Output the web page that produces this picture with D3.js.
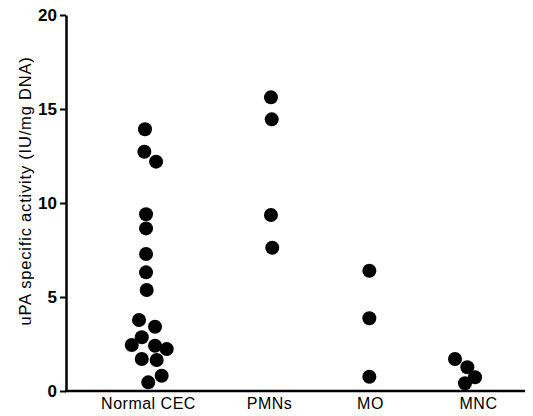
<!DOCTYPE html>
<html><head><meta charset="utf-8">
<script src="https://cdn.jsdelivr.net/npm/d3@7"></script>
<style>body{margin:0;background:#fff}</style>
</head><body>
<script>
// ---- data ----
const categories = ["Normal CEC", "PMNs", "MO", "MNC"];
const normalCEC = [13.92, 12.73, 12.20, 9.40, 8.65, 7.29, 6.31, 5.37, 3.78, 3.42, 2.86, 2.45, 2.41, 2.23, 1.70, 1.65, 0.81, 0.46];
const normalCECJitter = [-0.23, -0.28, 0.62, -0.15, -0.15, -0.15, -0.15, -0.10, -0.69, 0.54, -0.48, -1.25, 0.54, 1.44, -0.48, 0.67, 1.05, 0.02];
const pmns = [15.62, 14.45, 9.36, 7.62];
const pmnsJitter = [0.15, 0.21, 0.15, 0.25];
const mo = [6.40, 3.87, 0.76];
const moJitter = [-0.05, -0.05, -0.05];
const mnc = [1.70, 1.26, 0.73, 0.41];
const mncJitter = [-1.77, -0.82, -0.23, -1.00];
const yTicks = [0, 5, 10, 15, 20];
const yTitle = "uPA specific activity (IU/mg DNA)";

const groups = [
  {cat: categories[0], values: normalCEC, jitter: normalCECJitter},
  {cat: categories[1], values: pmns, jitter: pmnsJitter},
  {cat: categories[2], values: mo, jitter: moJitter},
  {cat: categories[3], values: mnc, jitter: mncJitter}
];
const points = groups.flatMap(g => g.values.map((v, i) => ({cat: g.cat, v, j: g.jitter[i]})));

// ---- layout ----
const W = 533, H = 416;
const x0 = 66, x1 = 525, yTop = 15, yBot = 391;
const FONT = "Liberation Sans, Arial, sans-serif";
const svg = d3.select("body").append("svg").attr("width", W).attr("height", H);

const y = d3.scaleLinear().domain([0, 20]).range([yBot, yTop]);
const x = d3.scaleOrdinal(categories, [148, 269, 370, 478]);
const jx = d3.scaleLinear().domain([-1, 1]).range([-13, 13]);

// y axis
const yAxis = svg.append("g").attr("transform", `translate(${x0},0)`)
  .call(d3.axisLeft(y).tickValues(yTicks).tickSize(6).tickSizeOuter(0).tickPadding(3));
yAxis.select(".domain").attr("stroke", "#000").attr("stroke-width", 2.5);
yAxis.selectAll(".tick line").attr("stroke", "#000").attr("stroke-width", 2);
yAxis.selectAll(".tick text")
  .style("font-family", FONT).style("font-weight", "700").style("font-size", "17px")
  .attr("fill", "#000");

// x axis
const xAxis = svg.append("g").attr("transform", `translate(0,${yBot})`)
  .call(d3.axisBottom(x).tickSize(0).tickPadding(7));
xAxis.select(".domain").remove();
xAxis.append("line").attr("x1", x0 - 1).attr("x2", x1).attr("y1", 0).attr("y2", 0)
  .attr("stroke", "#000").attr("stroke-width", 2.5);
xAxis.selectAll(".tick text")
  .style("font-family", FONT).style("font-size", "16px").style("letter-spacing", "0.5px")
  .attr("fill", "#000");

// y title
svg.append("text")
  .attr("transform", `translate(31,${(yTop + yBot) / 2 - 12}) rotate(-90)`)
  .attr("text-anchor", "middle")
  .style("font-family", FONT).style("font-size", "16.5px").style("letter-spacing", "0.8px")
  .text(yTitle);

// points
svg.append("g").selectAll("circle").data(points).join("circle")
  .attr("cx", d => x(d.cat) + jx(d.j))
  .attr("cy", d => y(d.v))
  .attr("r", 7)
  .attr("fill", "#000");
</script>
</body></html>
